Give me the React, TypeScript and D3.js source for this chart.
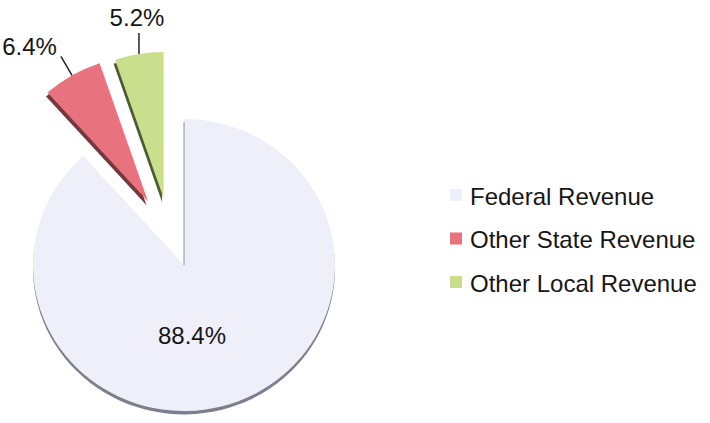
import React, { useEffect, useRef } from 'react';
import * as d3 from 'd3';

const categories = ['Federal Revenue', 'Other State Revenue', 'Other Local Revenue'];
const shares = [88.4, 6.4, 5.2];
const sliceLabels = ['88.4%', '6.4%', '5.2%'];
const colors = ['#eeeff9', '#e8737e', '#c9df8e'];
const sideColors = ['#7c7f8c', '#7a363d', '#4e5c2a'];

const App = () => {
  const chartRef = useRef<SVGSVGElement>(null);

  useEffect(() => {
    const svg = d3.select(chartRef.current);
    svg.selectAll('*').remove(); // clear before drawing

    const width = 710;
    const height = 423;
    const cx = 184;
    const cy = 265;
    const r = 151;
    const squash = 0.967; // slight tilt of the 3d pie
    // how far each slice is pulled out, and in which direction (degrees)
    const explodeDist = [0, 73, 70];
    const explodeDeg = [0, 330.5, 343];
    const font = '"Liberation Sans", Arial, sans-serif';

    svg.attr('width', width).attr('height', height);
    svg.append('rect').attr('width', width).attr('height', height).attr('fill', '#fff');

    const pie = d3.pie<number>().sort(null).value(d => d);
    const arcs = pie(shares);
    const arc = d3.arc<d3.PieArcDatum<number>>().innerRadius(0).outerRadius(r);

    const offset = (i: number) => {
      const a = (explodeDeg[i] * Math.PI) / 180;
      return [Math.sin(a) * explodeDist[i], -Math.cos(a) * explodeDist[i]];
    };

    arcs.forEach((d, i) => {
      const [ox, oy] = offset(i);
      const g = svg.append('g')
        .attr('transform', `translate(${cx + ox},${cy + oy}) scale(1,${squash})`);
      // side / thickness
      g.append('path')
        .attr('d', arc(d))
        .attr('transform', i === 0 ? 'translate(0,3.5)' : 'translate(-1.5,4)')
        .attr('fill', sideColors[i]);
      g.append('path')
        .attr('d', arc(d))
        .attr('fill', colors[i]);
    });

    // thin cut edge of the big slice at 12 o'clock
    svg.append('line')
      .attr('x1', cx).attr('y1', cy)
      .attr('x2', cx).attr('y2', cy - r * squash + 3)
      .attr('stroke', '#7f92aa')
      .attr('stroke-width', 1);

    // labels
    arcs.forEach((d, i) => {
      const a = (d.startAngle + d.endAngle) / 2;
      const [ox, oy] = offset(i);
      if (i === 0) {
        svg.append('text')
          .attr('x', cx + 8)
          .attr('y', cy + 79)
          .attr('text-anchor', 'middle')
          .attr('font-family', font)
          .attr('font-size', 24)
          .attr('fill', '#161616')
          .text(sliceLabels[i]);
        return;
      }
      const px = cx + ox + Math.sin(a) * r;
      const py = cy + oy - Math.cos(a) * r * squash;
      const steep = Math.abs(Math.sin(a)) < 0.3;
      const lx = steep ? px : px + Math.sin(a) * 22;
      const ly = py - (steep ? 21 : Math.cos(a) * 22);
      svg.append('line')
        .attr('x1', px).attr('y1', py)
        .attr('x2', lx).attr('y2', ly)
        .attr('stroke', '#222')
        .attr('stroke-width', 1.5);
      const t = svg.append('text')
        .attr('font-family', font)
        .attr('font-size', 24)
        .attr('fill', '#161616')
        .text(sliceLabels[i]);
      if (steep) {
        t.attr('x', lx - 2).attr('y', ly - 7).attr('text-anchor', 'middle');
      } else {
        t.attr('x', lx - 4).attr('y', ly - 1).attr('text-anchor', 'end');
      }
    });

    // legend
    const y = d3.scalePoint<string>().domain(categories).range([196, 283]);
    const legend = svg.append('g');
    categories.forEach((c, i) => {
      legend.append('rect')
        .attr('x', 450)
        .attr('y', (y(c) as number) - 7)
        .attr('width', 12)
        .attr('height', 12)
        .attr('fill', colors[i]);
      legend.append('text')
        .attr('x', 470)
        .attr('y', (y(c) as number) + 8.5)
        .attr('font-family', font)
        .attr('font-size', 24)
        .attr('fill', '#161616')
        .text(c);
    });
  }, []);

  return <svg ref={chartRef} style={{ position: 'absolute', left: 0, top: 0 }}></svg>;
};

export default App;
